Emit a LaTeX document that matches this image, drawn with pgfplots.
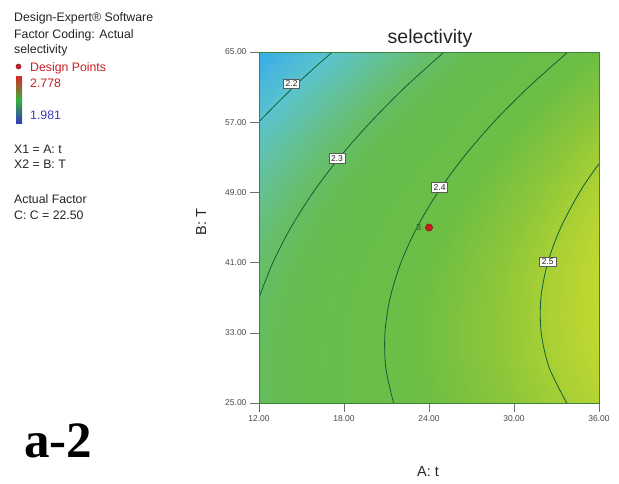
\documentclass[border=0pt]{standalone}
\usepackage{fontspec}
\setmainfont{Liberation Sans}
\newfontfamily\timesfont{Liberation Serif}
\usepackage{pgfplots}
\pgfplotsset{compat=1.18}

\definecolor{txt}{RGB}{35,35,35}
\definecolor{dpred}{RGB}{200,30,35}
\definecolor{dpdark}{RGB}{120,20,20}
\definecolor{cline}{RGB}{15,95,55}
\definecolor{tickgray}{RGB}{110,110,110}
\definecolor{frame}{RGB}{60,130,60}
\definecolor{lowblue}{RGB}{60,60,180}

% response surface on a 9 x 9 grid (A: t, B: T, selectivity)
\pgfplotstableread{
x y f
12 25 2.3072
15 25 2.3379
18 25 2.3673
21 25 2.3954
24 25 2.4222
27 25 2.4476
30 25 2.4719
33 25 2.4947
36 25 2.5162
12 30 2.3088
15 30 2.3408
18 30 2.3716
21 30 2.4009
24 30 2.4291
27 30 2.4559
30 30 2.4814
33 30 2.5056
36 30 2.5284
12 35 2.3036
15 35 2.3370
18 35 2.3690
21 35 2.3997
24 35 2.4292
27 35 2.4573
30 35 2.4842
33 35 2.5096
36 35 2.5338
12 40 2.2917
15 40 2.3264
18 40 2.3597
21 40 2.3917
24 40 2.4225
27 40 2.4519
30 40 2.4801
33 40 2.5068
36 40 2.5323
12 45 2.2729
15 45 2.3089
18 45 2.3436
21 45 2.3769
24 45 2.4090
27 45 2.4397
30 45 2.4692
33 45 2.4973
36 45 2.5241
12 50 2.2473
15 50 2.2846
18 50 2.3206
21 50 2.3553
24 50 2.3887
27 50 2.4207
30 50 2.4516
33 50 2.4810
36 50 2.5091
12 55 2.2149
15 55 2.2535
18 55 2.2909
21 55 2.3268
24 55 2.3616
27 55 2.3950
30 55 2.4271
33 55 2.4579
36 55 2.4873
12 60 2.1758
15 60 2.2157
18 60 2.2544
21 60 2.2916
24 60 2.3277
27 60 2.3624
30 60 2.3958
33 60 2.4279
36 60 2.4586
12 65 2.1298
15 65 2.1711
18 65 2.2110
21 65 2.2496
24 65 2.2870
27 65 2.3230
30 65 2.3578
33 65 2.3911
36 65 2.4232
}\surface

\begin{document}
\begin{tikzpicture}[x=1pt,y=1pt]
\path[use as bounding box] (0,0) rectangle (619,-483);

% side panel
\begin{scope}[every node/.style={anchor=base west, inner sep=0pt, text=txt, font=\fontsize{12.3}{14}\selectfont}]
\node at (14,-21) {Design-Expert® Software};
\node at (14,-38) {Factor Coding: Actual};
\node at (14,-53) {selectivity};
\fill[dpred, draw=dpdark, line width=0.4pt] (18.5,-66.5) circle (2.6);
\node[text=dpred] at (30,-71) {Design Points};
\shade[top color={rgb,255:red,215;green,40;blue,40}, bottom color={rgb,255:red,50;green,60;blue,185}, middle color={rgb,255:red,60;green,175;blue,60}] (16,-76) rectangle (22,-123);
\node[text=dpred] at (30,-87) {2.778};
\node[text=lowblue] at (30,-119) {1.981};
\node at (14,-153) {X1 = A: t};
\node at (14,-168) {X2 = B: T};
\node at (14,-203) {Actual Factor};
\node at (14,-219) {C: C = 22.50};
\end{scope}

\node[anchor=base west, inner sep=0pt, font=\timesfont\bfseries\fontsize{51}{51}\selectfont] at (24,-457) {a-2};

\begin{axis}[
  at={(259pt,-403pt)}, anchor=south west,
  scale only axis, width=340pt, height=351pt,
  xmin=12, xmax=36, ymin=25, ymax=65,
  xtick={12,18,24,30,36}, ytick={25,33,41,49,57,65},
  xtick pos=bottom, ytick pos=left,
  tick align=outside, major tick length=9pt,
  every tick/.style={tickgray, line width=0.6pt},
  axis line style={frame, line width=0.6pt},
  axis on top,
  tick label style={font=\fontsize{8.5}{9}\selectfont, text={rgb,255:red,70;green,70;blue,70}},
  /pgf/number format/.cd, fixed, fixed zerofill, precision=2, assume math mode=true,
  /pgfplots/.cd,
  colormap={selmap}{
    rgb255(0pt)=(40,60,190)
    rgb255(149pt)=(55,172,232)
    rgb255(219pt)=(90,195,205)
    rgb255(269pt)=(100,193,150)
    rgb255(309pt)=(102,190,105)
    rgb255(349pt)=(102,188,78)
    rgb255(439pt)=(108,190,68)
    rgb255(489pt)=(140,198,58)
    rgb255(549pt)=(192,216,48)
    rgb255(669pt)=(235,200,40)
    rgb255(797pt)=(215,40,40)
  },
  point meta min=1.981, point meta max=2.778,
]
\addplot[surf, shader=interp, mesh/cols=9, point meta=\thisrow{f}] table[x=x, y=y] {\surface};

% contour lines
\addplot[cline, line width=0.8pt, smooth, tension=0.5, no marks] coordinates {
 (17.18,65) (15.77,63) (14.44,61) (13.18,59) (12,57.05)};
\addplot[cline, line width=0.8pt, smooth, tension=0.5, no marks] coordinates {
 (25.07,65) (22.32,61) (19.87,57) (17.69,53) (15.82,49)
 (14.25,45) (12.98,41) (12,37.0)};
\addplot[cline, line width=0.8pt, smooth, tension=0.5, no marks] coordinates {
 (33.81,65) (31.03,61) (28.56,57) (26.43,53) (24.62,49)
 (23.15,45) (22.02,41) (21.26,37) (20.89,33) (20.95,29)
 (21.50,25)};
\addplot[cline, line width=0.8pt, smooth, tension=0.5, no marks] coordinates {
 (36,52.27) (35.44,51) (34.62,49) (33.30,45) (32.38,41)
 (31.90,37) (31.92,33) (32.49,29) (33.72,25)};

% contour level labels
\begin{scope}[every node/.style={draw={rgb,255:red,90;green,90;blue,90}, fill=white, line width=0.5pt, inner xsep=2.2pt, inner ysep=1.7pt, text=txt, font=\fontsize{8.5}{8.5}\selectfont}]
\node at (axis cs:14.3,61.4) {2.2};
\node at (axis cs:17.5,52.9) {2.3};
\node at (axis cs:24.75,49.6) {2.4};
\node at (axis cs:32.38,41.1) {2.5};
\end{scope}

% design point
\addplot[only marks, mark=*, mark size=3.6pt, mark options={fill=dpred, draw=dpdark, line width=0.5pt}] coordinates {(24,45)};
\node[anchor=east, inner sep=0pt, text={rgb,255:red,40;green,90;blue,50}, font=\fontsize{9}{9}\selectfont] at (axis cs:23.45,45) {3};
\end{axis}

% titles
\node[anchor=base, inner sep=0pt, text=txt, font=\fontsize{19.5}{20}\selectfont] at (430,-43) {selectivity};
\node[anchor=base, inner sep=0pt, text=txt, font=\fontsize{14.5}{15}\selectfont] at (428,-476) {A: t};
\node[anchor=base, rotate=90, inner sep=0pt, text=txt, font=\fontsize{14.5}{15}\selectfont] at (206,-222) {B: T};
\end{tikzpicture}
\end{document}
